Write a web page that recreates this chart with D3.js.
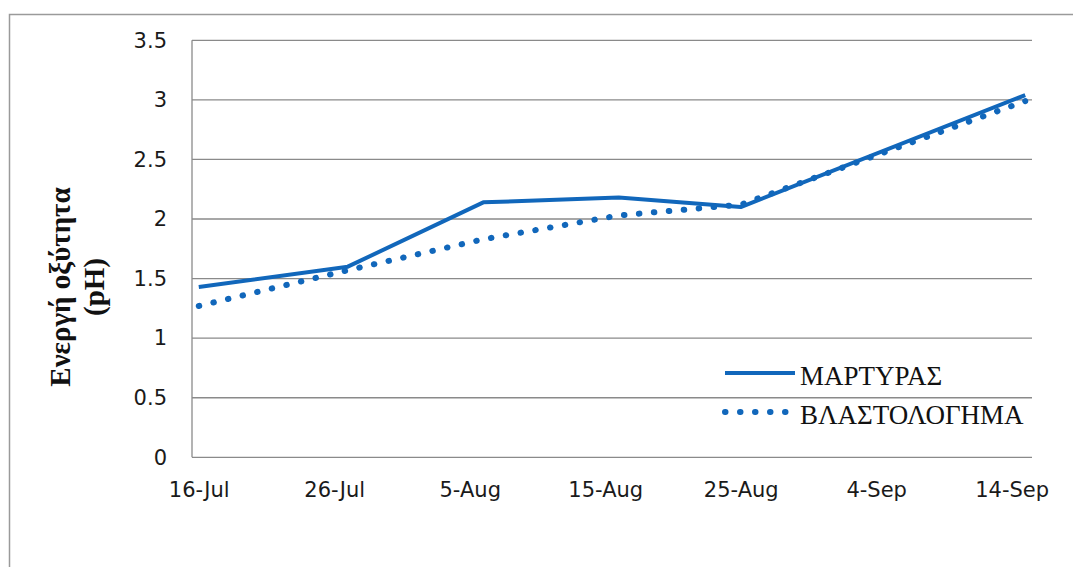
<!DOCTYPE html>
<html>
<head>
<meta charset="utf-8">
<script src="https://cdn.jsdelivr.net/npm/d3@7"></script>
<style>
  html, body { margin: 0; padding: 0; background: #fff; }
  svg { display: block; }
</style>
</head>
<body>
<div id="chart"></div>
<script>
// Sampling dates and pH readings for the two treatments
const dates = ["2013-07-16", "2013-07-27", "2013-08-06", "2013-08-16", "2013-08-25", "2013-09-15"];
const controlPH = [1.43, 1.60, 2.14, 2.18, 2.10, 3.04];      // ΜΑΡΤΥΡΑΣ
const shootThinPH = [1.27, 1.57, 1.83, 2.03, 2.12, 2.99];    // ΒΛΑΣΤΟΛΟΓΗΜΑ
const tickDates = ["2013-07-16", "2013-07-26", "2013-08-05", "2013-08-15", "2013-08-25", "2013-09-04", "2013-09-14"];
const tickLabels = ["16-Jul", "26-Jul", "5-Aug", "15-Aug", "25-Aug", "4-Sep", "14-Sep"];
const yTicks = [0, 0.5, 1, 1.5, 2, 2.5, 3, 3.5];
const seriesNames = ["ΜΑΡΤΥΡΑΣ", "ΒΛΑΣΤΟΛΟΓΗΜΑ"];

const W = 1073, H = 567;
const plot = { left: 192, right: 1032, top: 40.3, bottom: 457.3 };
const lineColor = "#1167BB";
const gridColor = "#8a8a8a";
const dotDash = "0.5 14.5";

const parse = d3.utcParse("%Y-%m-%d");
const DAY = 864e5;

const svg = d3.select("#chart").append("svg")
  .attr("width", W).attr("height", H);

// outer chart frame
svg.append("path")
  .attr("d", `M9.5,${H + 2}V14.5H${W + 2}`)
  .attr("fill", "none").attr("stroke", "#9a9a9a").attr("stroke-width", 1.5);

// each day occupies one slot; points sit at the slot centres
const x = d3.scaleUtc()
  .domain([new Date(parse(dates[0]).getTime() - DAY / 2),
           new Date(parse(dates[dates.length - 1]).getTime() + DAY / 2)])
  .range([plot.left, plot.right]);

const y = d3.scaleLinear().domain([0, 3.5]).range([plot.bottom, plot.top]);

// horizontal gridlines
svg.append("g")
  .selectAll("line").data(yTicks).join("line")
  .attr("x1", plot.left).attr("x2", plot.right)
  .attr("y1", d => y(d)).attr("y2", d => y(d))
  .attr("stroke", gridColor).attr("stroke-width", 1.3);

// vertical axis line
svg.append("line")
  .attr("x1", plot.left).attr("x2", plot.left)
  .attr("y1", plot.top).attr("y2", plot.bottom)
  .attr("stroke", gridColor).attr("stroke-width", 1.3);

// y tick labels
const yAxis = d3.axisLeft(y).tickValues(yTicks).tickSize(0).tickPadding(25)
  .tickFormat(d3.format("~g"));
const gy = svg.append("g").attr("transform", `translate(${plot.left},0)`).call(yAxis);
gy.select(".domain").remove();
gy.selectAll("text")
  .attr("font-family", "DejaVu Sans").attr("font-size", 21).attr("fill", "#1a1a1a");

// x tick labels
const xAxis = d3.axisBottom(x).tickValues(tickDates.map(parse)).tickSize(0).tickPadding(25)
  .tickFormat((d, i) => tickLabels[i]);
const gx = svg.append("g").attr("transform", `translate(0,${plot.bottom})`).call(xAxis);
gx.select(".domain").remove();
gx.selectAll("text")
  .attr("font-family", "DejaVu Sans").attr("font-size", 21).attr("fill", "#1a1a1a");

// series lines
const line = d3.line().x(d => x(d.date)).y(d => y(d.v));
const toPoints = vals => dates.map((d, i) => ({ date: parse(d), v: vals[i] }));

svg.append("path").datum(toPoints(shootThinPH))
  .attr("d", line).attr("fill", "none")
  .attr("stroke", lineColor).attr("stroke-width", 6)
  .attr("stroke-linecap", "round").attr("stroke-dasharray", dotDash);

svg.append("path").datum(toPoints(controlPH))
  .attr("d", line).attr("fill", "none")
  .attr("stroke", lineColor).attr("stroke-width", 4)
  .attr("stroke-linejoin", "round");

// legend
const legend = svg.append("g");
const legendRows = [
  { name: seriesNames[0], dash: null, width: 4, cap: "butt", yLine: 373 },
  { name: seriesNames[1], dash: dotDash, width: 6, cap: "round", yLine: 412 }
];
legendRows.forEach(r => {
  legend.append("line")
    .attr("x1", 725).attr("x2", 795).attr("y1", r.yLine).attr("y2", r.yLine)
    .attr("stroke", lineColor).attr("stroke-width", r.width)
    .attr("stroke-linecap", r.cap)
    .attr("stroke-dasharray", r.dash);
  legend.append("text")
    .attr("x", 800).attr("y", r.yLine + 12)
    .attr("font-family", "Liberation Serif").attr("font-size", 27).attr("fill", "#111")
    .text(r.name);
});

// y axis title
const title = svg.append("text")
  .attr("transform", "translate(70,287) rotate(-90)")
  .attr("text-anchor", "middle")
  .attr("font-family", "Liberation Serif").attr("font-weight", "bold")
  .attr("font-size", 29).attr("fill", "#111");
title.append("tspan").attr("x", 0).attr("y", 0).text("Ενεργή οξύτητα");
title.append("tspan").attr("x", 0).attr("dy", 34).text("(pH)");
</script>
</body>
</html>
